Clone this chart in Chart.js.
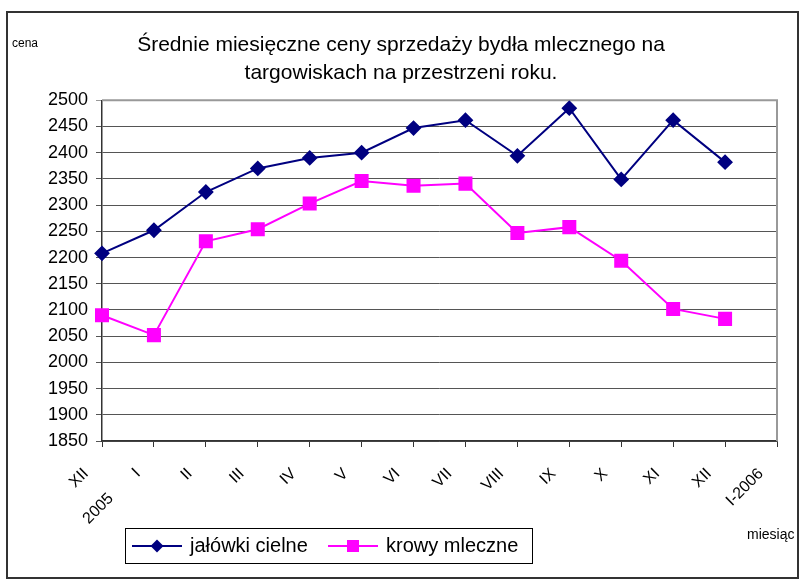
<!DOCTYPE html>
<html>
<head>
<meta charset="utf-8">
<script src="https://cdn.jsdelivr.net/npm/chart.js@4.4.1/dist/chart.umd.min.js"></script>
<style>
  html, body { margin: 0; padding: 0; background: #fff; }
  #wrap { width: 802px; height: 584px; }
</style>
</head>
<body>
<div id="wrap"><canvas id="cenyChart"></canvas></div>
<script>
// miesiące (oś X) i średnie ceny
const months = [['XII', '', '2005'], 'I', 'II', 'III', 'IV', 'V', 'VI', 'VII', 'VIII', 'IX', 'X', 'XI', 'XII', 'I-2006'];
const jalowki = [2208, 2252, 2325, 2370, 2390, 2400, 2447, 2462, 2394, 2485, 2349, 2462, 2382];
const krowy = [2090, 2052, 2231, 2254, 2303, 2346, 2337, 2341, 2247, 2258, 2194, 2102, 2083];
const titleLines = ['Średnie miesięczne ceny sprzedaży bydła mlecznego na', 'targowiskach na przestrzeni roku.'];

const FONT = "'Liberation Sans', Arial, sans-serif";
const legendX = [132, 328];

function marker(ctx, style, x, y, r, color) {
  ctx.fillStyle = color;
  ctx.beginPath();
  if (style === 'rectRot') {
    ctx.moveTo(x, y - r); ctx.lineTo(x + r, y); ctx.lineTo(x, y + r); ctx.lineTo(x - r, y);
  } else {
    const s = r * Math.SQRT1_2;
    ctx.rect(x - s, y - s, 2 * s, 2 * s);
  }
  ctx.closePath();
  ctx.fill();
}

const decor = {
  id: 'decor',
  beforeDraw(chart) {
    const ctx = chart.ctx;
    ctx.save();
    ctx.fillStyle = '#fff';
    ctx.fillRect(0, 0, chart.width, chart.height);
    ctx.restore();
  },
  beforeDatasetsDraw(chart) {
    const { ctx, chartArea: a } = chart;
    ctx.save();
    ctx.strokeStyle = '#999';
    ctx.lineWidth = 2;
    ctx.beginPath();
    ctx.moveTo(a.left, a.top);
    ctx.lineTo(a.right, a.top);
    ctx.lineTo(a.right, a.bottom);
    ctx.stroke();
    ctx.restore();
  },
  afterDraw(chart) {
    const ctx = chart.ctx;
    ctx.save();
    // ramka wykresu
    ctx.strokeStyle = '#333';
    ctx.lineWidth = 2;
    ctx.strokeRect(7, 12, 791, 566);

    // opisy osi
    ctx.fillStyle = '#000';
    ctx.font = '12px ' + FONT;
    ctx.textBaseline = 'middle';
    ctx.textAlign = 'left';
    ctx.fillText('cena', 12, 44);
    ctx.font = '14px ' + FONT;
    ctx.fillText('miesiąc', 747, 535);

    // legenda
    ctx.strokeStyle = '#000';
    ctx.lineWidth = 1;
    ctx.strokeRect(125.5, 528.5, 407, 35);
    ctx.font = '20px ' + FONT;
    const y = 546;
    chart.data.datasets.forEach((ds, i) => {
      const x = legendX[i];
      ctx.strokeStyle = ds.borderColor;
      ctx.lineWidth = 2;
      ctx.beginPath();
      ctx.moveTo(x, y);
      ctx.lineTo(x + 50, y);
      ctx.stroke();
      marker(ctx, ds.pointStyle, x + 25, y, ds.pointRadius, ds.backgroundColor);
      ctx.fillStyle = '#000';
      ctx.fillText(ds.label, x + 58, y);
    });
    ctx.restore();
  }
};

const config = {
  type: 'line',
  data: {
    labels: months,
    datasets: [{
      label: 'jałówki cielne',
      data: jalowki,
      borderColor: '#000080',
      backgroundColor: '#000080',
      borderWidth: 2,
      pointStyle: 'rectRot',
      pointRadius: 6.5,
      pointHoverRadius: 6.5,
      tension: 0
    }, {
      label: 'krowy mleczne',
      data: krowy,
      borderColor: '#ff00ff',
      backgroundColor: '#ff00ff',
      borderWidth: 2,
      pointStyle: 'rect',
      pointRadius: 8.5,
      pointHoverRadius: 8.5,
      tension: 0
    }]
  },
  options: {
    responsive: true,
    maintainAspectRatio: false,
    animation: false,
    layout: { padding: { left: 25, right: 25, top: 0, bottom: 0 } },
    plugins: {
      legend: { display: false },
      tooltip: { enabled: false },
      title: {
        display: true,
        text: titleLines,
        color: '#000',
        font: { family: FONT, size: 21, weight: 'normal', lineHeight: 1.34 },
        padding: { top: 31, bottom: 13 }
      }
    },
    scales: {
      x: {
        offset: false,
        afterFit(scale) {
          scale.height = 143;
          scale.paddingLeft = 0;
          scale.paddingRight = 0;
        },
        grid: { drawOnChartArea: false, drawTicks: true, tickLength: 6, color: '#333' },
        border: { color: '#333', width: 1.5 },
        ticks: {
          autoSkip: false,
          minRotation: 45,
          maxRotation: 45,
          padding: 18,
          labelOffset: -16,
          color: '#000',
          font: { family: FONT, size: 16, lineHeight: 1.1 }
        }
      },
      y: {
        min: 1850,
        max: 2500,
        afterFit(scale) { scale.width = 77; },
        grid: {
          color: ctx => ctx.tick && ctx.tick.value === 2500 ? '#999' : '#555',
          tickLength: 6
        },
        border: { color: '#333', width: 1.5 },
        ticks: {
          stepSize: 50,
          padding: 8,
          color: '#000',
          font: { family: FONT, size: 18 },
          callback: v => String(v)
        }
      }
    }
  },
  plugins: [decor]
};

const cenyChart = new Chart(document.getElementById('cenyChart'), config);
</script>
</body>
</html>
